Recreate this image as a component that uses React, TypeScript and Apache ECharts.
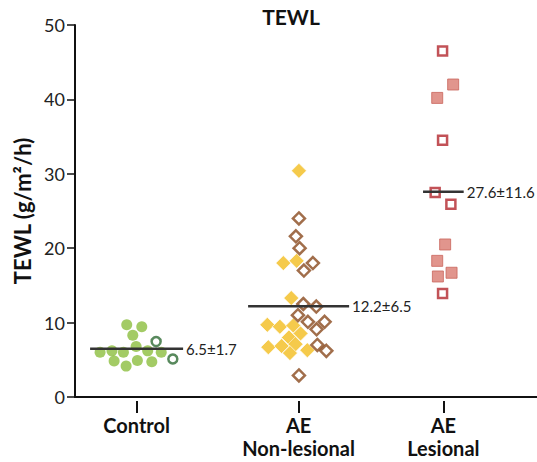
import React, { useEffect, useRef } from "react";
import * as echarts from "echarts";

// Category labels and their positions on the x scale
const categories = ["Control", "AE\nNon-lesional", "AE\nLesional"];
const groupCenters = [1, 3.63, 5.98];

// Control (filled = green dots, open = dark green rings)
const controlFilled = [9.7, 9.45, 8.3, 6.8, 6.0, 6.2, 6.0, 6.2, 6.0, 4.85, 4.9, 4.75, 4.15];
const controlFilledJitter = [-0.16, 0.084, -0.062, -0.008, -0.593, -0.4, -0.214, 0.18, 0.4, -0.365, 0.013, 0.247, -0.17];
const controlOpen = [7.45, 5.1];
const controlOpenJitter = [0.317, 0.588];

// AE non-lesional
const nlFilled = [30.4, 18.0, 18.3, 13.3, 9.7, 9.45, 9.6, 8.55, 8.0, 6.7, 6.85, 7.1, 5.9, 6.3];
const nlFilledJitter = [0.005, -0.248, -0.032, -0.119, -0.508, -0.304, -0.086, 0.032, -0.157, -0.492, -0.276, -0.049, -0.141, 0.141];
const nlOpen = [24.0, 21.6, 20.0, 18.0, 17.0, 12.5, 12.15, 11.0, 10.1, 10.1, 9.1, 7.0, 6.2, 2.9];
const nlOpenJitter = [0.005, -0.044, 0.016, 0.232, 0.086, 0.076, 0.287, -0.011, 0.151, 0.422, 0.292, 0.304, 0.45, 0.005];

// AE lesional
const lesFilled = [42.0, 40.2, 20.5, 18.3, 16.2, 16.7];
const lesFilledJitter = [0.159, -0.1, 0.029, -0.1, -0.089, 0.133];
const lesOpen = [46.5, 34.5, 27.5, 25.9, 13.9];
const lesOpenJitter = [-0.013, -0.013, -0.133, 0.122, -0.013];

// Means and SD labels
const means = [6.5, 12.2, 27.6];
const sds = [1.7, 6.5, 11.6];
const meanHalfWidths = [0.755, 0.82, 0.33];

const yTicks = { min: 0, max: 50, interval: 10 };

const FONT = "Lato, 'Noto Sans', sans-serif";

function pts(center: number, vals: number[], jit: number[]) {
  return vals.map((v, i) => [center + jit[i], v]);
}

export default function App() {
  const ref = useRef<HTMLDivElement>(null);
  useEffect(() => {
    document.body.style.margin = "0";
    if (!ref.current) return;
    const chart = echarts.init(ref.current, null, { renderer: "svg" });

    const meanSeries = means.map((m, i) => ({
      type: "line",
      xAxisIndex: 0,
      yAxisIndex: 0,
      z: 10,
      symbol: "none",
      silent: true,
      lineStyle: { color: "#333", width: 2.5 },
      endLabel: {
        show: true,
        distance: 3,
        formatter: `${m.toFixed(1)}±${sds[i].toFixed(1)}`,
        fontFamily: FONT,
        fontSize: 15,
        color: "#222",
      },
      data: [
        [groupCenters[i] - meanHalfWidths[i], m],
        [groupCenters[i] + meanHalfWidths[i], m],
      ],
    }));

    chart.setOption({
      animation: false,
      backgroundColor: "#fff",
      title: {
        text: "TEWL",
        left: 291,
        top: 6,
        padding: 0,
        textAlign: "center",
        textStyle: { fontFamily: FONT, fontWeight: "bold", fontSize: 21, color: "#111" },
      },
      grid: { left: 75, right: 0, top: 25, bottom: 65, containLabel: false },
      xAxis: [
        {
          type: "value",
          min: 0,
          max: 7.5,
          position: "bottom",
          axisLine: { show: true, lineStyle: { color: "#111", width: 2 } },
          axisTick: { show: false },
          axisLabel: { show: false },
          splitLine: { show: false },
        },
        {
          type: "value",
          min: 0,
          max: 7.5,
          position: "bottom",
          offset: 4,
          axisLine: { show: false },
          axisTick: {
            show: true,
            customValues: groupCenters,
            length: 12,
            lineStyle: { color: "#111", width: 2 },
          },
          axisLabel: {
            show: true,
            customValues: groupCenters,
            margin: 12,
            formatter: (v: number) => {
              let best = 0;
              groupCenters.forEach((c, i) => {
                if (Math.abs(c - v) < Math.abs(groupCenters[best] - v)) best = i;
              });
              return categories[best];
            },
            fontFamily: FONT,
            fontWeight: "bold",
            fontSize: 20,
            lineHeight: 23,
            color: "#111",
          },
          splitLine: { show: false },
        },
      ],
      yAxis: {
        type: "value",
        min: yTicks.min,
        max: yTicks.max,
        interval: yTicks.interval,
        name: "TEWL (g/m²/h)",
        nameLocation: "middle",
        nameGap: 41,
        nameTextStyle: { fontFamily: FONT, fontWeight: "bold", fontSize: 22, color: "#111" },
        axisLine: { show: true, lineStyle: { color: "#111", width: 2 } },
        axisTick: { show: true, length: 8, lineStyle: { color: "#111", width: 1.5 } },
        axisLabel: { fontFamily: FONT, fontSize: 18, color: "#222", margin: 10 },
        splitLine: { show: false },
      },
      series: [
        {
          type: "scatter",
          symbol: "circle",
          symbolSize: 11,
          itemStyle: { color: "#8CBE3F" },
          data: pts(groupCenters[0], controlFilled, controlFilledJitter),
        },
        {
          type: "scatter",
          symbol: "circle",
          symbolSize: 9,
          itemStyle: { color: "#fff", borderColor: "#2E6B34", borderWidth: 2.5 },
          data: pts(groupCenters[0], controlOpen, controlOpenJitter),
        },
        {
          type: "scatter",
          symbol: "diamond",
          symbolSize: 15,
          itemStyle: { color: "#F2BD1E", borderColor: "#fff", borderWidth: 0.8 },
          data: pts(groupCenters[1], nlFilled, nlFilledJitter),
        },
        {
          type: "scatter",
          symbol: "diamond",
          symbolSize: 12,
          itemStyle: { color: "#fff", borderColor: "#8A4A1E", borderWidth: 2.5 },
          data: pts(groupCenters[1], nlOpen, nlOpenJitter),
        },
        {
          type: "scatter",
          symbol: "rect",
          symbolSize: 11,
          itemStyle: { color: "#D97A70", borderColor: "#C9655C", borderWidth: 1 },
          data: pts(groupCenters[2], lesFilled, lesFilledJitter),
        },
        {
          type: "scatter",
          symbol: "rect",
          symbolSize: 9,
          itemStyle: { color: "#fff", borderColor: "#B3272D", borderWidth: 2.5 },
          data: pts(groupCenters[2], lesOpen, lesOpenJitter),
        },
        ...meanSeries,
      ],
    });
    return () => chart.dispose();
  }, []);
  return <div ref={ref} style={{ width: 537, height: 462 }} />;
}
